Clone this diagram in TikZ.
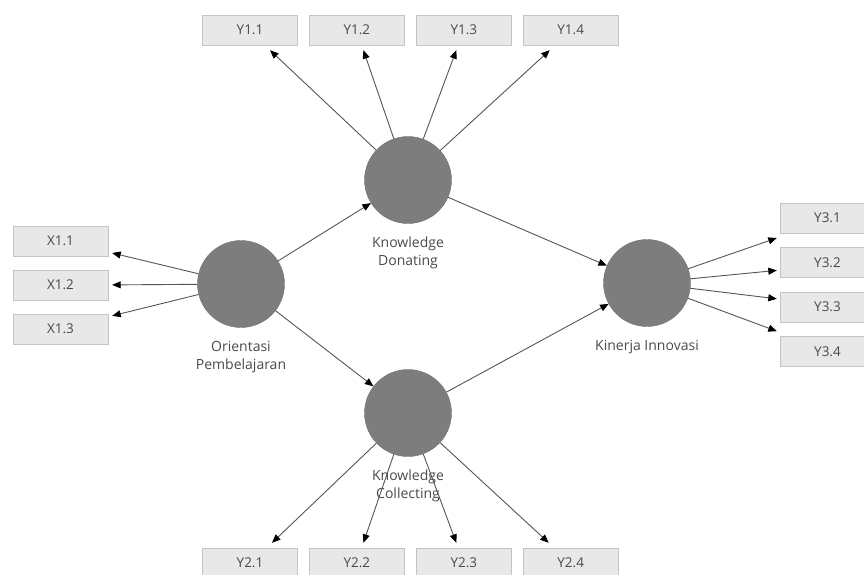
\documentclass[tikz,border=0pt]{standalone}
\usepackage{fontspec}
\setmainfont{Open Sans}
\usetikzlibrary{arrows.meta, positioning}
\definecolor{lvfill}{HTML}{7D7D7D}
\definecolor{indfill}{HTML}{E8E8E8}
\definecolor{inddraw}{HTML}{C4C4C4}
\definecolor{linkgray}{HTML}{555555}
\definecolor{txtgray}{HTML}{4A4A4A}
\tikzset{
  % variabel laten (lingkaran)
  latent/.style={circle, fill=lvfill, draw=lvfill!92!black, minimum size=87pt,
    inner sep=0pt},
  % kotak indikator
  indic/.style={draw=inddraw, fill=indfill, minimum width=95pt, minimum height=30pt,
    inner sep=0pt, font=\fontsize{13.5}{15}\selectfont, text=txtgray},
  % nama variabel
  lvlabel/.style={font=\fontsize{14}{18}\selectfont, text=txtgray, align=center,
    inner sep=0pt},
  % panah jalur
  link/.style={-{Triangle[length=8.5pt, width=7pt, color=black]}, draw=linkgray,
    line width=0.9pt},
}

\begin{document}
\begin{tikzpicture}[x=1pt, y=-1pt, node distance=13.5pt]
  \clip (0,0) rectangle (864,574);
  % variabel laten
  \node[latent] (orient) at (241,284) {};
  \node[latent] (kd) at (408,180) {};
  \node[latent] (kc) at (408,413) {};
  \node[latent] (kin) at (647,283) {};
  \node[lvlabel, below=13pt of orient] (orientlbl) {Orientasi\\Pembelajaran};
  \node[lvlabel, below=13pt of kd] (kdlbl) {Knowledge\\Donating};
  \node[lvlabel, below=13pt of kc] (kclbl) {Knowledge\\Collecting};
  \node[lvlabel, below=13pt of kin] (kinlbl) {Kinerja Innovasi};
  % indikator kiri
  \node[indic] (x11) at (60.5,241) {X1.1};
  \node[indic, below=of x11] (x12) {X1.2};
  \node[indic, below=of x12] (x13) {X1.3};
  % indikator atas
  \node[indic] (y11) at (250,30) {Y1.1};
  \node[indic, right=11.5pt of y11] (y12) {Y1.2};
  \node[indic, right=11.5pt of y12] (y13) {Y1.3};
  \node[indic, right=11.5pt of y13] (y14) {Y1.4};
  % indikator bawah
  \node[indic] (y21) at (250,563) {Y2.1};
  \node[indic, right=11.5pt of y21] (y22) {Y2.2};
  \node[indic, right=11.5pt of y22] (y23) {Y2.3};
  \node[indic, right=11.5pt of y23] (y24) {Y2.4};
  % indikator kanan
  \node[indic] (y31) at (827.5,218) {Y3.1};
  \node[indic, below=14pt of y31] (y32) {Y3.2};
  \node[indic, below=14pt of y32] (y33) {Y3.3};
  \node[indic, below=14pt of y33] (y34) {Y3.4};
  % model struktural
  \draw[link] (orient) -- (kd);
  \draw[link] (orient) -- (kc);
  \draw[link] (kd) -- (kin);
  \draw[link] (kc) -- (kin);
  % model pengukuran
  \draw[link] (orient) -- ([xshift=4pt, yshift=-12pt]x11.east);
  \draw[link] (orient) -- ([xshift=4pt]x12.east);
  \draw[link] (orient) -- ([xshift=4pt, yshift=13pt]x13.east);
  \draw[link] (kd) -- ([xshift=20pt, yshift=-5pt]y11.south);
  \draw[link] (kd) -- ([xshift=6.5pt, yshift=-5pt]y12.south);
  \draw[link] (kd) -- ([xshift=-7.5pt, yshift=-5pt]y13.south);
  \draw[link] (kd) -- ([xshift=-21pt, yshift=-5pt]y14.south);
  \draw[link] (kc) -- ([xshift=22pt, yshift=5pt]y21.north);
  \draw[link] (kc) -- ([xshift=6.5pt, yshift=5pt]y22.north);
  \draw[link] (kc) -- ([xshift=-7.5pt, yshift=5pt]y23.north);
  \draw[link] (kc) -- ([xshift=-22pt, yshift=5pt]y24.north);
  \draw[link] (kin) -- ([xshift=-3pt, yshift=-20pt]y31.west);
  \draw[link] (kin) -- ([xshift=-3pt, yshift=-8pt]y32.west);
  \draw[link] (kin) -- ([xshift=-3pt, yshift=8pt]y33.west);
  \draw[link] (kin) -- ([xshift=-3pt, yshift=20pt]y34.west);
\end{tikzpicture}
\end{document}
